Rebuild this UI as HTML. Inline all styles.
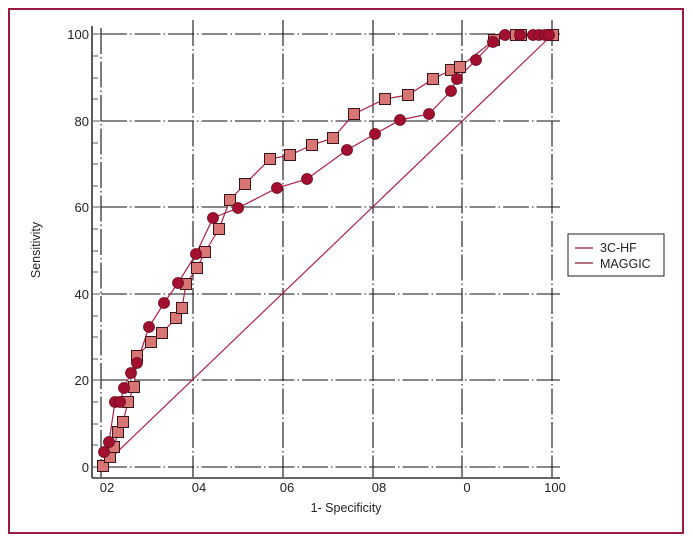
<!DOCTYPE html>
<html><head><style>
html,body{margin:0;padding:0;background:#fff;}
svg{display:block;font-family:"Liberation Sans",sans-serif;}
</style></head><body>
<svg width="692" height="543" viewBox="0 0 692 543" xmlns="http://www.w3.org/2000/svg">
<rect x="9" y="9" width="674" height="524" fill="#fff" stroke="#9b1b40" stroke-width="2"/>
<g stroke="#111" stroke-width="1.1" stroke-dasharray="26,3,1.5,3" fill="none">
<line x1="101" y1="34" x2="560" y2="34"/>
<line x1="101" y1="121" x2="560" y2="121"/>
<line x1="101" y1="207" x2="560" y2="207"/>
<line x1="101" y1="294" x2="560" y2="294"/>
<line x1="101" y1="380" x2="560" y2="380"/>
<line x1="101" y1="467" x2="560" y2="467"/>
<line x1="101" y1="28" x2="101" y2="477"/>
<line x1="193" y1="20" x2="193" y2="477"/>
<line x1="283" y1="20" x2="283" y2="477"/>
<line x1="373" y1="20" x2="373" y2="477"/>
<line x1="462" y1="20" x2="462" y2="477"/>
<line x1="552" y1="20" x2="552" y2="477"/>
</g>
<g stroke="#333" stroke-width="1.6">
<line x1="92" y1="26" x2="92" y2="478"/>
<line x1="92" y1="478" x2="560" y2="478"/>
</g>
<g stroke="#555" stroke-width="1">
<line x1="92" y1="34" x2="100" y2="34"/><line x1="92" y1="56" x2="98" y2="56"/><line x1="92" y1="78" x2="98" y2="78"/><line x1="92" y1="99" x2="98" y2="99"/>
<line x1="92" y1="121" x2="100" y2="121"/><line x1="92" y1="143" x2="98" y2="143"/><line x1="92" y1="164" x2="98" y2="164"/><line x1="92" y1="186" x2="98" y2="186"/>
<line x1="92" y1="207" x2="100" y2="207"/><line x1="92" y1="229" x2="98" y2="229"/><line x1="92" y1="251" x2="98" y2="251"/><line x1="92" y1="272" x2="98" y2="272"/>
<line x1="92" y1="294" x2="100" y2="294"/><line x1="92" y1="316" x2="98" y2="316"/><line x1="92" y1="337" x2="98" y2="337"/><line x1="92" y1="359" x2="98" y2="359"/>
<line x1="92" y1="380" x2="100" y2="380"/><line x1="92" y1="402" x2="98" y2="402"/><line x1="92" y1="424" x2="98" y2="424"/><line x1="92" y1="445" x2="98" y2="445"/>
<line x1="92" y1="467" x2="100" y2="467"/>
</g>
<g font-size="13" fill="#222" text-anchor="end">
<text x="89" y="39">100</text><text x="89" y="126">80</text><text x="89" y="212">60</text>
<text x="89" y="299">40</text><text x="89" y="385">20</text><text x="89" y="472">0</text>
</g>
<g font-size="13" fill="#222" text-anchor="middle">
<text x="107" y="492">02</text><text x="199" y="492">04</text><text x="287" y="492">06</text>
<text x="379" y="492">08</text><text x="467" y="492">0</text><text x="555" y="492">100</text>
<text x="346" y="512" font-size="12.5">1- Specificity</text>
</g>
<text transform="translate(40,250) rotate(-90)" font-size="12.5" fill="#222" text-anchor="middle">Sensitivity</text>
<line x1="113" y1="456" x2="552" y2="35" stroke="#a82048" stroke-width="1.2"/>
<polyline fill="none" stroke="#a82048" stroke-width="1.2" points="103,466 110,457 114,447 118,432 123,422 128,402 134,387 137,356 151,342 162,333 176,318 182,308 186,284 197,268 205,252 219,229 230,200 245,184 270,159 290,155 312,145 333,138 354,114 385,99 408,95 433,79 451,70 460,67 494,40 516,35 521,35 553,35"/>
<polyline fill="none" stroke="#a82048" stroke-width="1.2" points="104,452 109,442 115,402 120,402 124,388 131,373 137,363 149,327 164,303 178,283 196,254 213,218 238,208 277,188 307,179 347,150 375,134 400,120 429,114 451,91 457,79 476,60 493,42 505,35 520,35 533,35 539,35 545,35 549,35"/>
<g fill="#d87575" stroke="#3a1418" stroke-width="1">
<rect x="97.5" y="460.5" width="11" height="11"/><rect x="104.5" y="451.5" width="11" height="11"/><rect x="108.5" y="441.5" width="11" height="11"/><rect x="112.5" y="426.5" width="11" height="11"/><rect x="117.5" y="416.5" width="11" height="11"/><rect x="122.5" y="396.5" width="11" height="11"/><rect x="128.5" y="381.5" width="11" height="11"/><rect x="131.5" y="350.5" width="11" height="11"/><rect x="145.5" y="336.5" width="11" height="11"/><rect x="156.5" y="327.5" width="11" height="11"/><rect x="170.5" y="312.5" width="11" height="11"/><rect x="176.5" y="302.5" width="11" height="11"/><rect x="180.5" y="278.5" width="11" height="11"/><rect x="191.5" y="262.5" width="11" height="11"/><rect x="199.5" y="246.5" width="11" height="11"/><rect x="213.5" y="223.5" width="11" height="11"/><rect x="224.5" y="194.5" width="11" height="11"/><rect x="239.5" y="178.5" width="11" height="11"/><rect x="264.5" y="153.5" width="11" height="11"/><rect x="284.5" y="149.5" width="11" height="11"/><rect x="306.5" y="139.5" width="11" height="11"/><rect x="327.5" y="132.5" width="11" height="11"/><rect x="348.5" y="108.5" width="11" height="11"/><rect x="379.5" y="93.5" width="11" height="11"/><rect x="402.5" y="89.5" width="11" height="11"/><rect x="427.5" y="73.5" width="11" height="11"/><rect x="445.5" y="64.5" width="11" height="11"/><rect x="454.5" y="61.5" width="11" height="11"/><rect x="488.5" y="34.5" width="11" height="11"/><rect x="510.5" y="29.5" width="11" height="11"/><rect x="515.5" y="29.5" width="11" height="11"/><rect x="547.5" y="29.5" width="11" height="11"/>
</g>
<g fill="#a3102f" stroke="#6a0a20" stroke-width="0.8">
<circle cx="104" cy="452" r="5.5"/><circle cx="109" cy="442" r="5.5"/><circle cx="115" cy="402" r="5.5"/><circle cx="120" cy="402" r="5.5"/><circle cx="124" cy="388" r="5.5"/><circle cx="131" cy="373" r="5.5"/><circle cx="137" cy="363" r="5.5"/><circle cx="149" cy="327" r="5.5"/><circle cx="164" cy="303" r="5.5"/><circle cx="178" cy="283" r="5.5"/><circle cx="196" cy="254" r="5.5"/><circle cx="213" cy="218" r="5.5"/><circle cx="238" cy="208" r="5.5"/><circle cx="277" cy="188" r="5.5"/><circle cx="307" cy="179" r="5.5"/><circle cx="347" cy="150" r="5.5"/><circle cx="375" cy="134" r="5.5"/><circle cx="400" cy="120" r="5.5"/><circle cx="429" cy="114" r="5.5"/><circle cx="451" cy="91" r="5.5"/><circle cx="457" cy="79" r="5.5"/><circle cx="476" cy="60" r="5.5"/><circle cx="493" cy="42" r="5.5"/><circle cx="505" cy="35" r="5.5"/><circle cx="520" cy="35" r="5.5"/><circle cx="533" cy="35" r="5.5"/><circle cx="539" cy="35" r="5.5"/><circle cx="545" cy="35" r="5.5"/><circle cx="549" cy="35" r="5.5"/>
</g>
<rect x="568" y="234" width="96" height="42" fill="#fff" stroke="#222" stroke-width="1"/>
<line x1="575" y1="248" x2="593" y2="248" stroke="#8a1a3a" stroke-width="1.2"/>
<line x1="575" y1="263" x2="593" y2="263" stroke="#8a1a3a" stroke-width="1.2"/>
<text x="600" y="252" font-size="12.5" fill="#222">3C-HF</text>
<text x="600" y="268" font-size="12.5" fill="#222">MAGGIC</text>
</svg>
</body></html>
